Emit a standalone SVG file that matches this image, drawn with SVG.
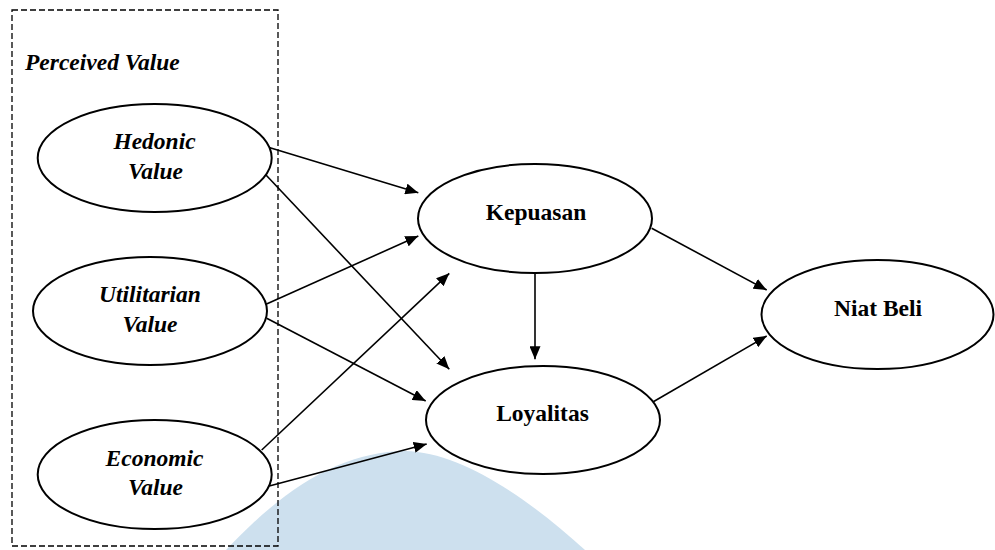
<svg xmlns="http://www.w3.org/2000/svg" width="995" height="550" viewBox="0 0 995 550">
<style>
.node ellipse { fill: #ffffff; stroke: #000000; stroke-width: 2; }
.lbl { font-family: "Liberation Serif", "Times New Roman", serif; font-weight: bold; fill: #000000; text-anchor: middle; }
.it { font-style: italic; font-size: 23.5px; }
.up { font-size: 23.5px; }
.conn line { stroke: #000000; stroke-width: 1.6; marker-end: url(#arr); }
</style>
<defs>
<marker id="arr" markerUnits="userSpaceOnUse" markerWidth="13" markerHeight="11" refX="13" refY="5.5" orient="auto">
<path d="M0,0 L13,5.5 L0,11 Z" fill="#000000"/>
</marker>
</defs>
<rect width="995" height="550" fill="#ffffff"/>
<path id="watermark" d="M 226 550 C 290 482 345 452 405 451 C 462 452 530 500 585 550 Z" fill="#cde0ee"/>
<g id="perceived-value">
<rect x="12" y="10" width="266" height="536" fill="none" stroke="#000000" stroke-width="1.3" stroke-dasharray="6,3"/>
<text class="lbl it" x="25" y="70" style="text-anchor:start">Perceived Value</text>
</g>
<g class="conn" id="connectors">
<line x1="266.7" y1="146.7" x2="418.3" y2="192.7"/>
<line x1="266" y1="175" x2="449.3" y2="369.3"/>
<line x1="266" y1="304.3" x2="418.3" y2="236"/>
<line x1="266.7" y1="318.3" x2="425.7" y2="401"/>
<line x1="261.7" y1="450" x2="449.3" y2="273.3"/>
<line x1="269.3" y1="486" x2="426.7" y2="444"/>
<line x1="535" y1="273" x2="535" y2="359.3"/>
<line x1="651.7" y1="228.3" x2="766.7" y2="290"/>
<line x1="653.3" y1="401.7" x2="766.7" y2="336"/>
</g>
<g class="node" id="hedonic">
<ellipse cx="154.7" cy="158" rx="117" ry="54"/>
<text class="lbl it" x="154.5" y="149">Hedonic</text>
<text class="lbl it" x="155.5" y="179">Value</text>
</g>
<g class="node" id="utilitarian">
<ellipse cx="150" cy="311" rx="117" ry="54"/>
<text class="lbl it" x="150" y="302">Utilitarian</text>
<text class="lbl it" x="150" y="332">Value</text>
</g>
<g class="node" id="economic">
<ellipse cx="154.7" cy="474.5" rx="117" ry="54.5"/>
<text class="lbl it" x="154.5" y="466">Economic</text>
<text class="lbl it" x="155.5" y="495">Value</text>
</g>
<g class="node" id="kepuasan">
<ellipse cx="535" cy="218.5" rx="117" ry="54.5"/>
<text class="lbl up" x="536" y="219.5">Kepuasan</text>
</g>
<g class="node" id="loyalitas">
<ellipse cx="543" cy="420" rx="117" ry="54"/>
<text class="lbl up" x="542.5" y="421">Loyalitas</text>
</g>
<g class="node" id="niat-beli">
<ellipse cx="877.5" cy="314.5" rx="116" ry="54.5"/>
<text class="lbl up" x="878" y="315.5">Niat Beli</text>
</g>
</svg>
